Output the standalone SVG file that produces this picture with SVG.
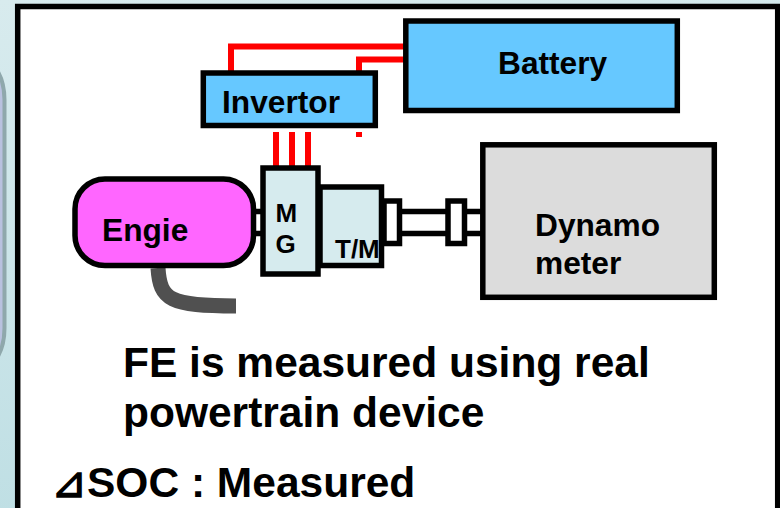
<svg xmlns="http://www.w3.org/2000/svg" width="780" height="508" viewBox="0 0 780 508">
<style>
.box{stroke:#000;stroke-width:5.5}
.t{font-family:"Liberation Sans",Arial,sans-serif;font-weight:700;fill:#000}
.s{font-size:31.700px}
.b{font-size:42.500px}
.red{fill:none;stroke:#f00;stroke-width:6}
.sh{stroke:#000;stroke-width:5.5;fill:none}
</style>
<defs><linearGradient id="bg" x1="0" y1="0" x2="0.15" y2="1"><stop offset="0" stop-color="#d8ebee"/><stop offset="1" stop-color="#bfdfe4"/></linearGradient></defs>
<rect width="780" height="508" fill="url(#bg)"/>
<rect x="-40" y="60" width="44.500" height="308" rx="40" fill="#b9c1df" stroke="#8fa8ac" stroke-width="4"/>
<rect x="17.700" y="6.500" width="760" height="520" fill="#fff" stroke="#000" stroke-width="5.500"/>
<g id="connectors">
<path class="red" d="M231 71V46.500H404"/>
<path class="red" d="M359 71V59.500H404"/>
<path class="red" d="M276 132V166M292 132V166M308 132V166M359 132V137"/>
<path class="sh" d="M255 211.500H261M255 233.500H261M402 211.500H446M402 233.500H446M466 211.500H481M466 233.500H481"/>
<path d="M158 268C160 300 170 306 236 306" fill="none" stroke="#505050" stroke-width="15"/>
</g>
<g id="battery"><rect class="box" x="405.800" y="21" width="271.500" height="89.500" fill="#66c8ff"/><text class="t s" x="498" y="74">Battery</text></g>
<g id="invertor"><rect class="box" x="203.300" y="73" width="172" height="52.500" fill="#66c8ff"/><text class="t s" x="222" y="113">Invertor</text></g>
<g id="engine"><rect class="box" x="75" y="179" width="178.500" height="86.500" rx="30" fill="#ff66ff"/><text class="t s" x="102" y="241">Engie</text></g>
<g id="tm"><rect x="320" y="187" width="61.500" height="78.500" fill="#d6ebee"/><text class="t" font-size="26" x="335" y="258">T/M</text><rect class="box" x="320" y="187" width="61.500" height="78.500" fill="none"/></g>
<g id="mg"><rect class="box" x="263" y="168" width="55" height="106" fill="#d6ebee"/><text class="t" font-size="26" x="275.500" y="222">M</text><text class="t" font-size="26" x="275.500" y="253">G</text></g>
<g id="coupling1"><rect class="box" x="384" y="201" width="15.500" height="42.500" fill="#fff"/></g>
<g id="coupling2"><rect class="box" x="448" y="201" width="16.500" height="42.500" fill="#fff"/></g>
<g id="dynamometer"><rect class="box" x="482.800" y="144.800" width="231.500" height="152.500" fill="#dcdcdc"/><text class="t s" x="535" y="236">Dynamo</text><text class="t s" x="535" y="274">meter</text></g>
<text class="t b" x="123" y="377">FE is measured using real</text>
<text class="t b" x="123" y="427">powertrain device</text>
<text class="t b" x="51" y="497">⊿SOC : Measured</text>
</svg>
